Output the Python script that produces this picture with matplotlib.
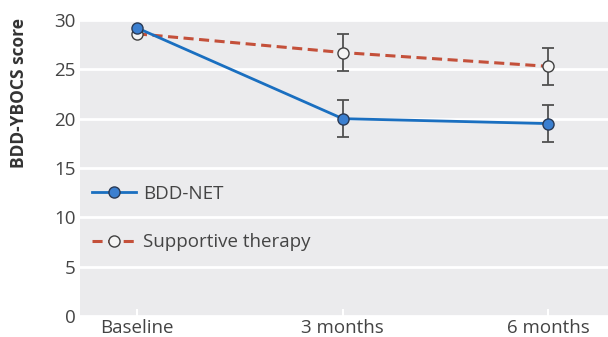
import numpy as np
import matplotlib
matplotlib.use("Agg")
import matplotlib.pyplot as plt

# data
timepoints = ["Baseline", "3 months", "6 months"]
bdd_net = [29.2, 20.0, 19.5]
bdd_net_err = [0.0, 1.9, 1.9]
supportive = [28.6, 26.7, 25.3]
supportive_err = [0.0, 1.85, 1.9]
yticks = [0, 5, 10, 15, 20, 25, 30]

plt.rcParams['font.family'] = ['Open Sans', 'DejaVu Sans']
text_col = "#444444"

fig = plt.figure(figsize=(6.08, 3.37), dpi=100)
ax = fig.add_axes([0.1316, 0.0623, 0.8684, 0.8784])
ax.set_facecolor("#ebebed")

x = np.arange(len(timepoints))

ax.errorbar(x[1:], supportive[1:], yerr=supportive_err[1:], fmt="none",
            ecolor="#505050", elinewidth=1.3, capsize=4, capthick=1.3, zorder=3)
ax.errorbar(x[1:], bdd_net[1:], yerr=bdd_net_err[1:], fmt="none",
            ecolor="#505050", elinewidth=1.3, capsize=4, capthick=1.3, zorder=3)

ax.plot(x, supportive, color="#c4503a", lw=2.2, ls=(0, (3.3, 1.8)),
        marker="o", ms=8, mfc="#f4f4f4", mec="#404040", mew=1.0,
        label="Supportive therapy", zorder=4)
ax.plot(x, bdd_net, color="#1a6fc0", lw=2.0,
        marker="o", ms=8, mfc="#3b7fd0", mec="#2a3a55", mew=1.0,
        label="BDD-NET", zorder=5)

ax.set_xlim(-0.277, 2.29)
ax.set_ylim(0, 30)
ax.set_yticks(yticks)
ax.set_xticks(x)
ax.set_xticklabels(timepoints)
ax.grid(axis="y", color="white", lw=2)
ax.set_axisbelow(True)
for s in ax.spines.values():
    s.set_visible(False)
ax.tick_params(axis="y", length=0, labelsize=13.5, labelcolor=text_col, pad=3)
ax.tick_params(axis="x", direction="in", length=5, width=1.5, color="white",
               labelsize=13.5, labelcolor=text_col, pad=2)
ax.set_ylabel("BDD-YBOCS score", fontsize=12.5, fontweight="bold",
              color="#333333")
ax.yaxis.set_label_coords(-0.098, 0.753)

handles, labels = ax.get_legend_handles_labels()
leg = ax.legend(handles[::-1], labels[::-1], loc="center left",
                bbox_to_anchor=(0.0227, 0.331), frameon=False, fontsize=13.5,
                handlelength=2.35, labelspacing=1.65, handletextpad=0.37,
                borderpad=0, borderaxespad=0, labelcolor=text_col)

fig.savefig("out.png", dpi=100)
